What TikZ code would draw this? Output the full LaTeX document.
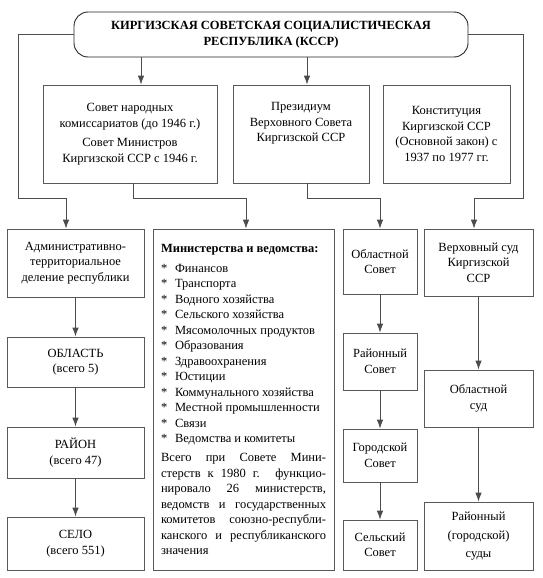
\documentclass[tikz,border=0pt]{standalone}
\usepackage{fontspec}
\setmainfont{Liberation Serif}
\usetikzlibrary{arrows.meta}

\tikzstyle{head} = [rectangle, rounded corners=14pt, draw=black!85, line width=0.9pt, align=center, inner sep=2pt, font=\bfseries]
\tikzstyle{box} = [rectangle, draw=black!65, line width=0.8pt, align=center, inner sep=3pt]
\tikzstyle{arrow} = [draw=black!70, line width=0.8pt, -{Latex[length=9pt,width=6.5pt]}]

\newcommand{\minitem}[1]{\makebox[14pt][l]{*}#1\\}

\begin{document}
\fontsize{12.5}{15.5}\selectfont
\begin{tikzpicture}[x=1pt, y=-1pt]
    \useasboundingbox (0,0) rectangle (543,578);

    \node (title) [head, minimum width=394pt, minimum height=45pt] at (271,34.5) {КИРГИЗСКАЯ СОВЕТСКАЯ СОЦИАЛИСТИЧЕСКАЯ\\ РЕСПУБЛИКА (КССР)};

    % second row
    \node (sovnarkom) [box, minimum width=174pt, minimum height=98pt] at (130,134) {Совет народных\\ комиссариатов (до 1946 г.)\\[4pt] Совет Министров\\ Киргизской ССР с 1946 г.};
    \node (presidium) [box, minimum width=136pt, minimum height=98pt] at (301,134) {Президиум\\ Верховного Совета\\ Киргизской ССР\\[8pt]};
    \node (constitution) [box, minimum width=127pt, minimum height=98pt] at (446.5,134) {Конституция\\ Киргизской ССР\\ (Основной закон) с\\ 1937 по 1977 гг.};

    % territorial division
    \node (admin) [box, minimum width=137pt, minimum height=68pt] at (75.5,263) {Административно-\\ территориальное\\ деление республики};
    \node (oblast) [box, minimum width=137pt, minimum height=50pt] at (75.5,362) {ОБЛАСТЬ\\ (всего 5)};
    \node (rayon) [box, minimum width=137pt, minimum height=51pt] at (75.5,452.5) {РАЙОН\\ (всего 47)};
    \node (selo) [box, minimum width=137pt, minimum height=53pt] at (75.5,543.5) {СЕЛО\\ (всего 551)};

    % ministries
    \node (ministry) [box, minimum width=181pt, minimum height=341pt, text width=165pt, align=justify] at (243.5,399.5) {%
        {\bfseries Министерства и ведомства:}\\[4.5pt]
        \minitem{Финансов}
        \minitem{Транспорта}
        \minitem{Водного хозяйства}
        \minitem{Сельского хозяйства}
        \minitem{Мясомолочных продуктов}
        \minitem{Образования}
        \minitem{Здравоохранения}
        \minitem{Юстиции}
        \minitem{Коммунального хозяйства}
        \minitem{Местной промышленности}
        \minitem{Связи}
        \makebox[14pt][l]{*}Ведомства и комитеты\\[3.5pt]
        Всего при Совете Мини-\linebreak стерств к 1980 г. функцио-\linebreak нировало 26 министерств,\linebreak ведомств и государственных\linebreak комитетов союзно-республи-\linebreak канского и республиканского\linebreak значения};

    % soviets
    \node (oblsovet) [box, minimum width=74pt, minimum height=65pt] at (380,261.5) {Областной\\ Совет};
    \node (raysovet) [box, minimum width=74pt, minimum height=57pt] at (380,361.5) {Районный\\ Совет};
    \node (gorsovet) [box, minimum width=74pt, minimum height=53pt] at (380,455.5) {Городской\\ Совет};
    \node (selsovet) [box, minimum width=74pt, minimum height=50pt] at (380,545) {Сельский\\ Совет};

    % courts
    \node (verhsud) [box, minimum width=109pt, minimum height=67pt] at (478.5,262.5) {Верховный суд\\ Киргизской\\ ССР};
    \node (oblsud) [box, minimum width=109pt, minimum height=57pt] at (478.5,398.5) {Областной\\ суд};
    \node (raysud) [box, minimum width=109pt, minimum height=68pt] at (478.5,536) {Районный\\[4pt] (городской)\\[2pt] суды};

    \coordinate (a1) at ([xshift=11pt]sovnarkom.north);
    \coordinate (a2) at ([xshift=6pt]presidium.north);

    \draw [arrow] (title.south -| a1) -- (a1);
    \draw [arrow] (title.south -| a2) -- (a2);
    \draw [arrow] (title.west) -| (18,198) -| ([xshift=-9.5pt]admin.north);
    \draw [arrow] (title.east) -| (523,198) -| ([xshift=-4.5pt]verhsud.north);
    \draw [arrow] ([xshift=3pt]sovnarkom.south) -- ++(0,15) -| ([xshift=2.5pt]ministry.north);
    \draw [arrow] ([xshift=6pt]presidium.south) -- ++(0,15) -| (oblsovet.north);

    \draw [arrow] (admin) -- (oblast);
    \draw [arrow] (oblast) -- (rayon);
    \draw [arrow] (rayon) -- (selo);
    \draw [arrow] (oblsovet) -- (raysovet);
    \draw [arrow] (raysovet) -- (gorsovet);
    \draw [arrow] (gorsovet) -- (selsovet);
    \draw [arrow] (verhsud) -- (oblsud);
    \draw [arrow] (oblsud) -- (raysud);

\end{tikzpicture}
\end{document}
